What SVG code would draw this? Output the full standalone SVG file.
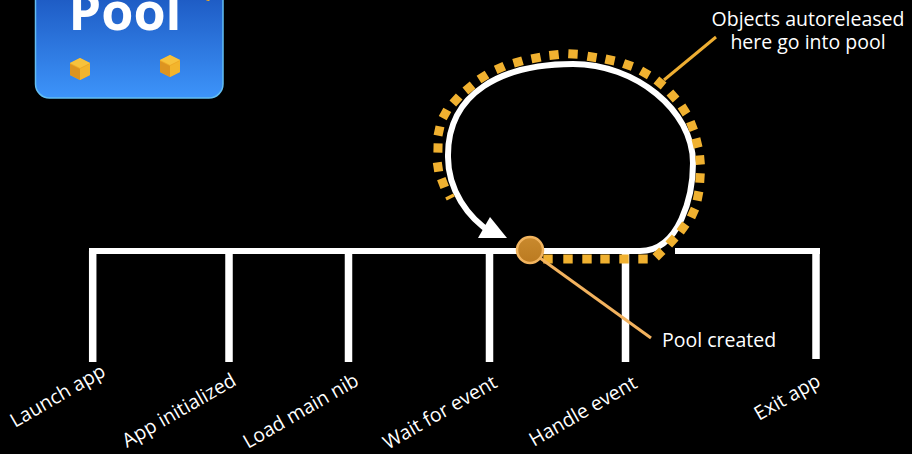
<svg xmlns="http://www.w3.org/2000/svg" width="912" height="454" viewBox="0 0 912 454">
<style>
.rail{fill:none;stroke:#fff;stroke-width:6}
.tick{fill:none;stroke:#fff;stroke-width:7.5}
.lbl{font-family:"Open Sans","Liberation Sans",sans-serif;font-size:19.500px;fill:#fff}
.leader{fill:none;stroke-width:3}
</style>
<defs>
<linearGradient id="panel" x1="0" y1="0" x2="0" y2="1"><stop offset="0" stop-color="#1246b0"/><stop offset="1" stop-color="#3d94fa"/></linearGradient>
<linearGradient id="knob" x1="0" y1="0" x2="0" y2="1"><stop offset="0" stop-color="#c98a2e"/><stop offset="1" stop-color="#bb7a20"/></linearGradient>
<g id="cube">
<polygon points="0,-11 10,-6 10,6 0,11 -10,6 -10,-6" fill="#eea926"/>
<polygon points="0,-11 10,-6 0,-1 -10,-6" fill="#f7c23c"/>
<polygon points="0,0 10,-5 10,6 0,11" fill="#f3b52c"/>
<polygon points="0,0 -10,-5 -10,6 0,11" fill="#dd9420"/>
</g>
</defs>
<rect width="912" height="454" fill="#000"/>
<g id="pool-panel">
<rect x="35.500" y="-40" width="187.500" height="138" rx="14" fill="url(#panel)" stroke="#62bdf2" stroke-width="1.500"/>
<text x="125" y="30" text-anchor="middle" font-family="'Open Sans','Liberation Sans',sans-serif" font-weight="700" font-size="52" fill="#fff">Pool</text>
<use href="#cube" x="80" y="69"/>
<use href="#cube" x="170" y="66"/>
<use href="#cube" x="208" y="-10"/>
</g>
<g id="connectors">
<path class="rail" d="M89 251H640M675 251H820"/>
<path class="tick" d="M92.700 251V362M229 251V362M348.500 251V362M489.500 251V362M625.500 251V362M816 251V359"/>
<path class="rail" d="M540 251L640 251C680 251 693 195 693 163C693 110 635 64 573 64C503 64 447 92 448 157C448 190 468 218 492 233"/>
<polygon points="490,217 507,238 478,238" fill="#fff"/>
<path fill="none" stroke="#f0b130" stroke-width="9" d="M450.800 198.600L449.200 195.400M444.700 187.400L441.300 178.600M438.700 171.700L437.300 162.300M437.900 152.700L438.100 143.300M438 135.600L440 126.400M442.700 118.100L447.300 109.900M452.800 103.500L459.200 96.500M465.400 91L472.600 85M479 79.500L487 74.500M495.700 69.900L504.300 66.100M513.500 63.300L522.500 60.700M531.400 58.900L540.600 57.100M549.300 55.500L558.700 54.500M568.300 53.800L577.700 54.300M587.400 56.300L596.600 57.800M605.400 59L614.600 61M623.600 63.400L632.400 66.600M640.900 70.700L649.100 75.300M656.400 80L663.600 86M669.900 92.500L676.100 99.500M681.500 106L686.500 114M690.300 121.600L693.700 130.400M695.900 138.400L698.100 147.600M699.600 155.300L700.400 164.700M700.300 173.300L699.700 182.700M698.900 191.400L697.100 200.600M695 208.700L691 217.300M685.800 224.200L680.200 231.800M675.200 237.500L668.800 244.500M662.300 250.700L655.700 257.300M647.700 259H638.300M628.700 259H619.300M609.700 259H600.300M591.700 259H582.300M572.700 259H563.300M552.700 259H543.300"/>
<path class="leader" stroke="#eeae32" d="M664 80L716 37"/>
<path class="leader" stroke="#f2b25e" d="M540 258L651 338"/>
</g>
<g id="pool-created-marker"><circle cx="530" cy="250" r="13" fill="url(#knob)" stroke="#f2b45e" stroke-width="2.500"/></g>
<g id="note-autoreleased"><text class="lbl" x="808" y="26" text-anchor="middle">Objects autoreleased</text><text class="lbl" x="808" y="49" text-anchor="middle">here go into pool</text></g>
<g id="note-created"><text class="lbl" x="662" y="347">Pool created</text></g>
<g id="label-launch"><text class="lbl" transform="translate(15,428) rotate(-30)">Launch app</text></g>
<g id="label-init"><text class="lbl" transform="translate(127,448) rotate(-30)">App initialized</text></g>
<g id="label-nib"><text class="lbl" transform="translate(248,449) rotate(-30)">Load main nib</text></g>
<g id="label-wait"><text class="lbl" transform="translate(388,450) rotate(-30)">Wait for event</text></g>
<g id="label-handle"><text class="lbl" transform="translate(534,447) rotate(-30)">Handle event</text></g>
<g id="label-exit"><text class="lbl" transform="translate(759,421) rotate(-30)">Exit app</text></g>
</svg>
